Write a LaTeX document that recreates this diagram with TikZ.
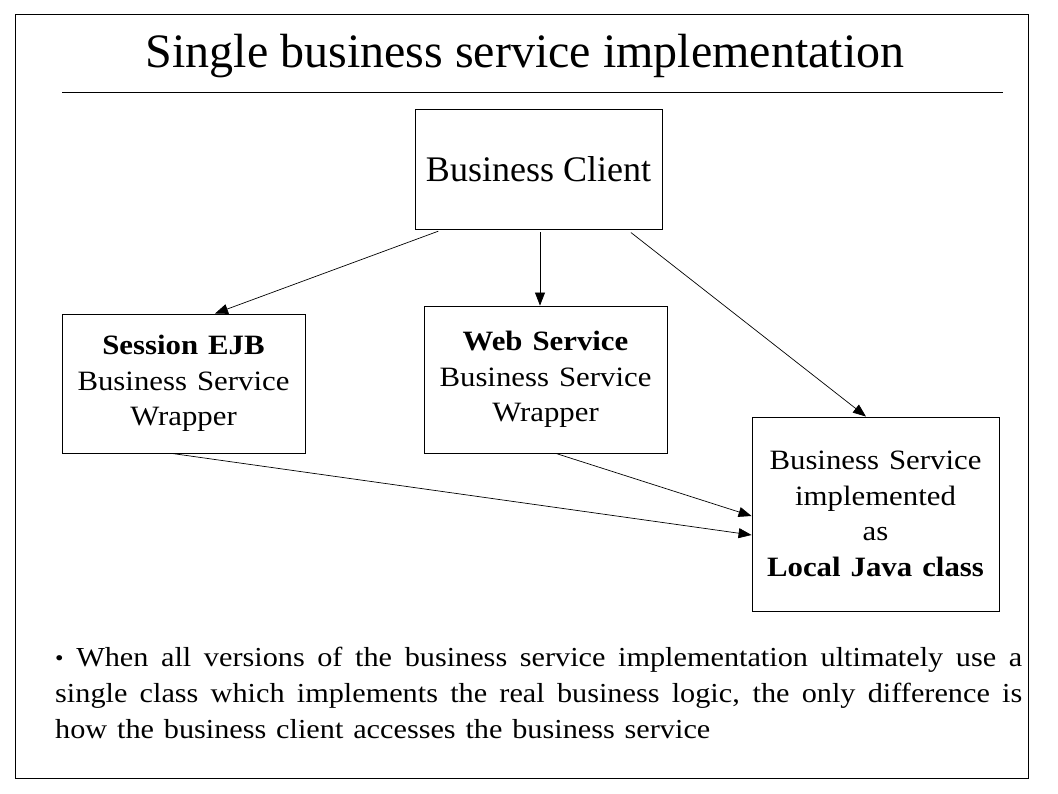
\documentclass[tikz,border=0pt]{standalone}
\usepackage{fontspec}
\setmainfont{Liberation Serif}
\newfontfamily\boxfont{Liberation Serif}[FakeStretch=1.1, WordSpace=1.8]
\newfontfamily\notefont{Liberation Serif}[FakeStretch=1.1, WordSpace={1.3,1.5,2}]
\usetikzlibrary{arrows.meta}

\begin{document}
\begin{tikzpicture}[x=1pt,y=-1pt,
					box/.style={draw=black, line width=0.9pt, align=center, inner sep=0pt},
					arr/.style={-{Triangle[length=13pt,width=10pt]}, line width=0.7pt},
					boxtext/.style={font=\boxfont\fontsize{28}{35.5}\selectfont}]
\useasboundingbox (0,0) rectangle (1058,793);
\draw[line width=1pt] (15,14) rectangle (1028,778);
\node (title) at (525,56) {\fontsize{48}{54}\selectfont Single business service implementation};
\draw[line width=1pt] (62,92) -- (1003,92);
\node[box, minimum width=247pt, minimum height=120pt] (client) at (538.5,169)
	{\fontsize{36}{40}\selectfont Business Client};
\node[box, boxtext, minimum width=243pt, minimum height=139pt] (ejb) at (183.5,383.5)
	{\textbf{Session EJB}\\Business Service\\Wrapper};
\node[box, boxtext, minimum width=243pt, minimum height=147pt] (ws) at (545.5,379.5)
	{\textbf{Web Service}\\Business Service\\Wrapper};
\node[box, boxtext, minimum width=247pt, minimum height=194pt] (local) at (875.5,514)
	{Business Service\\implemented\\as\\\textbf{Local Java class}};
\draw[arr, shorten <=5pt] ([xshift=-95.5pt]client.south) -- ([xshift=31.5pt]ejb.north);
\draw[arr, shorten <=3pt] ([xshift=1.5pt]client.south) -- ([xshift=1.5pt]client.south |- ws.north);
\draw[arr, shorten <=5pt] ([xshift=88.5pt]client.south) -- ([xshift=-9.5pt]local.north);
\draw[arr] ([xshift=-11.5pt]ejb.south) -- ([yshift=-21pt]local.west);
\draw[arr] ([xshift=10.5pt]ws.south) -- ([yshift=-2pt]local.west);
\node[anchor=north west, inner sep=0pt, text width=967pt, align=justify,
	font=\notefont\fontsize{27.5}{36}\selectfont] (note) at (55,647)
	{{\fontsize{22}{22}\selectfont\raisebox{1pt}{•}} When all versions of the business service implementation ultimately use a\linebreak
	single class which implements the real business logic, the only difference is\linebreak
	how the business client accesses the business service};
\end{tikzpicture}
\end{document}
